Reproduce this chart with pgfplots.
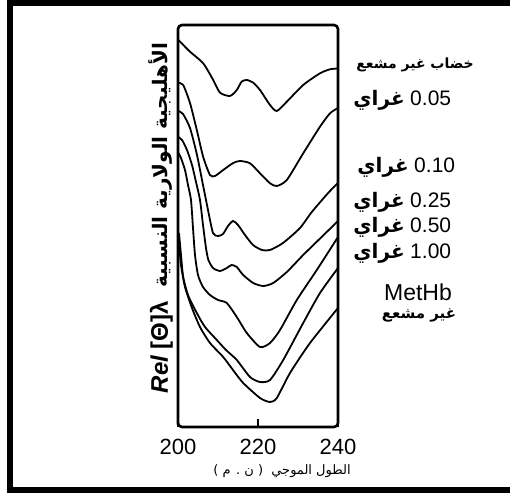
\documentclass[border=0pt]{standalone}
\usepackage{fontspec}
\setmainfont{Liberation Sans}
\newfontfamily\arabicfont[Script=Arabic]{DejaVu Sans}
\TeXXeTstate=1
\usepackage{pgfplots}
\pgfplotsset{compat=1.18}
\begin{document}
\begin{tikzpicture}[x=0.5pt,y=-0.5pt]
\useasboundingbox (0,0) rectangle (510,493);
\draw[line width=3pt,line join=miter] (510,3)--(9.5,3)--(9.5,490)--(510,490);
\begin{axis}[at={(89pt,-213.5pt)}, anchor=south west, scale only axis,
  width=80pt, height=201pt, xmin=200, xmax=240, ymin=0, ymax=402,
  xtick={200,220,240}, ytick=\empty, xtick pos=bottom, tick align=inside,
  major tick length=4pt, tick style={black, line width=0.8pt},
  axis line style={line width=1.3pt, rounded corners=2pt},
  /pgf/number format/assume math mode=true,
  xticklabel style={font=\fontsize{11}{11}\selectfont, yshift=-2.5pt}]
\pgfplotsset{cycle list={{black}}}
\addplot[black, line width=0.9pt, smooth, tension=0.4] coordinates {(200.1,387)(203,375.3)(206.3,363.7)(208.8,347)(210.5,334.3)(213,331)(214.7,337)(215.9,345.3)(217.2,347)(218.8,344.3)(220.5,337)(223,322)(224.7,316)(227.2,325.3)(231.3,342)(235.5,353.7)(238,357.7)(240,358.5)};
\addplot[black, line width=0.9pt, smooth, tension=0.4] coordinates {(200.1,344)(201.3,342)(203,324)(204.7,297)(206.3,270)(208,252)(209.25,251)(211.3,257)(213.8,264)(215.5,266)(218,263.7)(220.5,253.7)(223,243.7)(224.7,241)(227.2,247)(231.3,273.7)(235.5,300.3)(238,313.7)(240,319)};
\addplot[black, line width=0.9pt, smooth, tension=0.4] coordinates {(200.1,316)(201.25,313)(203,299)(204.75,272)(206.25,242)(207.5,217)(208.75,194)(210,191)(211.25,193)(212.5,201)(213.75,206)(215,202)(216.75,192)(218.75,182)(221,177)(223,177)(226.25,184)(230.5,199)(233.25,214)(236,227)(238,236)(240,244)};
\addplot[black, line width=0.9pt, smooth, tension=0.4] coordinates {(200.1,290)(201,287)(202.25,277)(203.5,262)(204.5,245)(205.5,227)(206.25,202)(207,179)(207.6,167)(208.75,159)(210.5,156)(212.2,159)(213.4,162)(214.7,160)(216.3,152)(218.8,144)(221.3,141)(223.8,144)(227.2,155)(231.3,172)(235.9,190)(240,206)};
\addplot[black, line width=0.9pt, smooth, tension=0.4] coordinates {(200.1,274)(200.75,269)(201.75,257)(202.5,242)(203.25,227)(203.75,199)(204.25,172)(205,152)(206.25,140)(208,132)(210,127)(212.2,124)(214.7,110)(217.2,94)(220.5,80)(223,84)(225.5,97)(229.7,127)(234.7,157)(240,190)};
\addplot[black, line width=0.9pt, smooth, tension=0.4] coordinates {(200.25,194)(200.75,172)(201.3,150)(202.5,132)(204.7,114)(206.75,100)(209.7,87)(212,77)(214.7,67)(218,50)(220.5,45)(223,47)(226.3,67)(231.3,104)(235.5,134)(240,159)};
\addplot[black, line width=0.9pt, smooth, tension=0.4] coordinates {(200.25,184)(200.75,162)(201.75,140)(203.5,119)(205.5,100)(208,84)(211.3,70)(213.75,57)(216.3,44)(220.5,29)(223,25)(224.7,29)(228,54)(233,84)(240,119)};
\end{axis}
% y label
\node[rotate=90, inner sep=0pt] at (161,218) {\fontsize{12}{12}\selectfont\bfseries\itshape Rel\upshape\ [Θ]λ\ \ {\arabicfont\bfseries\fontsize{10}{10}\selectfont\beginR الأهليجية الولارية النسبية\endR}};
% x label
\node[inner sep=0pt] at (282,471) {\arabicfont\fontsize{6.5}{6.5}\selectfont\beginR الطول الموجي\ \ ( ن . م )\endR};
% right labels
\node[inner sep=0pt] at (415,65) {\arabicfont\bfseries\fontsize{7}{7}\selectfont\beginR خضاب غير مشعع\endR};
\node[anchor=base west, inner sep=0pt] at (353,105) {{\arabicfont\bfseries\fontsize{10}{10}\selectfont غراي}\ \fontsize{10.5}{10.5}\selectfont 0.05};
\node[anchor=base west, inner sep=0pt] at (357,172) {{\arabicfont\bfseries\fontsize{10}{10}\selectfont غراي}\ \fontsize{10.5}{10.5}\selectfont 0.10};
\node[anchor=base west, inner sep=0pt] at (353,207) {{\arabicfont\bfseries\fontsize{10}{10}\selectfont غراي}\ \fontsize{10.5}{10.5}\selectfont 0.25};
\node[anchor=base west, inner sep=0pt] at (353,232) {{\arabicfont\bfseries\fontsize{10}{10}\selectfont غراي}\ \fontsize{10.5}{10.5}\selectfont 0.50};
\node[anchor=base west, inner sep=0pt] at (353,258) {{\arabicfont\bfseries\fontsize{10}{10}\selectfont غراي}\ \fontsize{10.5}{10.5}\selectfont 1.00};
\node[anchor=base, inner sep=0pt] at (418,300) {\fontsize{11.5}{11.5}\selectfont MetHb};
\node[inner sep=0pt] at (419,315) {\arabicfont\bfseries\fontsize{7.5}{7.5}\selectfont\beginR غير مشعع\endR};
\end{tikzpicture}
\end{document}
